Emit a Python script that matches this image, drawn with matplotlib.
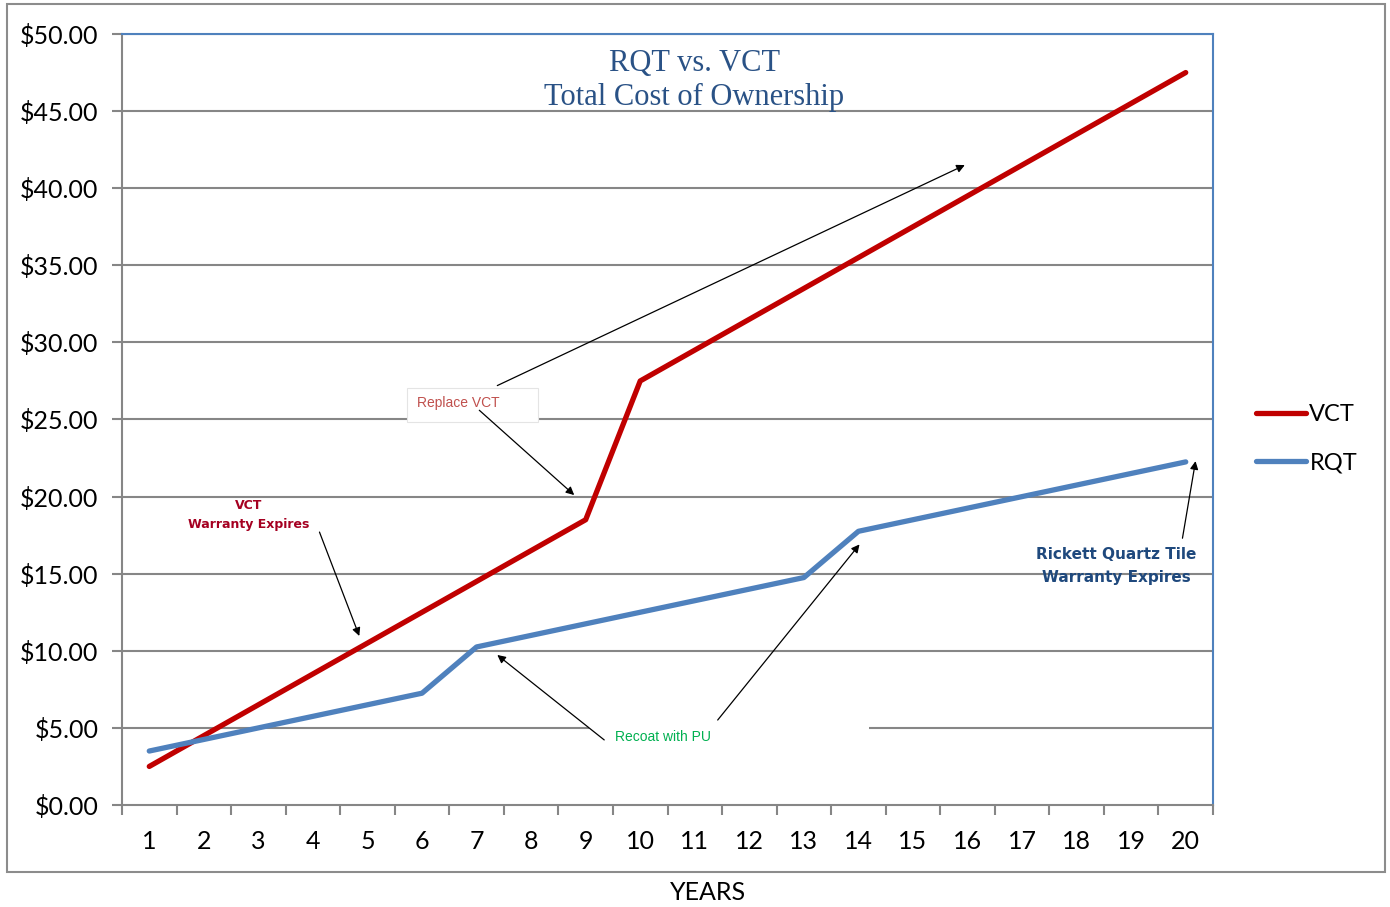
import matplotlib.pyplot as plt
import matplotlib.patches as patches

years = list(range(1, 21))
vct = [2.5, 4.5, 6.5, 8.5, 10.5, 12.5, 14.5, 16.5, 18.5, 27.5,
       29.5, 31.5, 33.5, 35.5, 37.5, 39.5, 41.5, 43.5, 45.5, 47.5]
rqt = [3.5, 4.25, 5.0, 5.75, 6.5, 7.25, 10.25, 11.0, 11.75, 12.5,
       13.25, 14.0, 14.75, 17.75, 18.5, 19.25, 20.0, 20.75, 21.5, 22.25]
yticks = [0, 5, 10, 15, 20, 25, 30, 35, 40, 45, 50]
ylabels = ['$%.2f' % v for v in yticks]

plt.rcParams['font.family'] = ['Lato', 'DejaVu Sans']

grid_c = '#868686'
fig = plt.figure(figsize=(13.9, 9.07), dpi=100)
ax = fig.add_axes([122/1390, 102/907, 1091/1390, 771/907])

# outer chart border
fig.patches.append(patches.Rectangle((7/1390, 35/907), 1378/1390, 868/907,
                                     transform=fig.transFigure, fill=False,
                                     edgecolor='#8c8c8c', linewidth=1.5))

for v in yticks[1:]:
    ax.axhline(v, color=grid_c, linewidth=1.5, zorder=1)

ax.plot(years, vct, color='#C00000', linewidth=3.8, label='VCT', zorder=4,
        solid_capstyle='round')
ax.plot(years, rqt, color='#4F81BD', linewidth=3.8, label='RQT', zorder=4,
        solid_capstyle='round')

ax.set_xlim(0.5, 20.5)
ax.set_ylim(0, 50)
ax.set_yticks(yticks)
ax.set_yticklabels(ylabels, fontsize=18)
ax.set_xticks(years)
ax.set_xticklabels([str(y) for y in years], fontsize=18)
ax.set_xticks([y + 0.5 for y in range(0, 21)], minor=True)
ax.tick_params(axis='x', which='major', length=0, pad=18)
ax.tick_params(axis='x', which='minor', length=7, width=1.5, color=grid_c, direction='out')
ax.tick_params(axis='y', length=7, width=1.5, color=grid_c, pad=10)

ax.spines['left'].set_color(grid_c)
ax.spines['bottom'].set_color(grid_c)
ax.spines['top'].set_color('#4F81BD')
ax.spines['right'].set_color('#4F81BD')
for s in ax.spines.values():
    s.set_linewidth(1.5)

# title inside plot
ax.text(10.99, 49.0, 'RQT vs. VCT\nTotal Cost of Ownership', ha='center', va='top',
        fontsize=22, color='#2A5286', family='Liberation Serif', linespacing=1.2)

arrow = dict(arrowstyle='-|>', color='black', linewidth=0.9, mutation_scale=12,
             shrinkA=0, shrinkB=0)

# Replace VCT
ax.add_patch(patches.Rectangle((5.73, 24.84), 2.4, 2.2, facecolor='white',
                               edgecolor='#e4e4e4', linewidth=0.8, zorder=2))
ax.text(5.91, 26.1, 'Replace VCT', fontsize=10, color='#C0504D', ha='left',
        va='center', zorder=3, family='Liberation Sans')
ax.annotate('', xy=(15.95, 41.5), xytext=(7.38, 27.2), arrowprops=arrow, zorder=5)
ax.annotate('', xy=(8.79, 20.1), xytext=(7.05, 25.6), arrowprops=arrow, zorder=5)

# VCT warranty
ax.text(2.83, 18.8, 'VCT\nWarranty Expires', fontsize=9, color='#A50021',
        ha='center', va='center', fontweight='bold', family='DejaVu Sans',
        linespacing=1.6, zorder=3)
ax.annotate('', xy=(4.85, 10.96), xytext=(4.12, 17.7), arrowprops=arrow, zorder=5)

# RQT warranty
ax.text(18.73, 15.5, 'Rickett Quartz Tile\nWarranty Expires', fontsize=11,
        color='#1F497D', ha='center', va='center', fontweight='bold',
        family='DejaVu Sans', linespacing=1.65, zorder=3)
ax.annotate('', xy=(20.18, 22.3), xytext=(19.94, 17.3), arrowprops=arrow, zorder=5)

# Recoat with PU
ax.add_patch(patches.Rectangle((9.07, 3.6), 5.13, 2.2, facecolor='white',
                               edgecolor='none', zorder=2))
ax.text(9.53, 4.41, 'Recoat with PU', fontsize=10, color='#00B050', ha='left',
        va='center', zorder=3, family='Liberation Sans')
ax.annotate('', xy=(7.38, 9.73), xytext=(9.34, 4.22), arrowprops=arrow, zorder=5)
ax.annotate('', xy=(14.02, 16.9), xytext=(11.42, 5.51), arrowprops=arrow, zorder=5)

fig.legend(loc='center left', bbox_to_anchor=(1235/1390, 1 - 439/907), frameon=False,
           fontsize=17, handlelength=2.1, handletextpad=0.15, labelspacing=1.15)

fig.text(708/1390, 1 - 892/907, 'YEARS', ha='center', va='center', fontsize=18)

fig.savefig('out.png', dpi=100)
